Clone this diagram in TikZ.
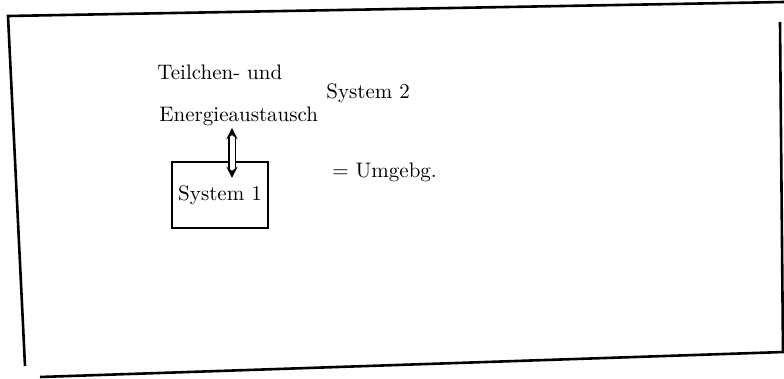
\documentclass[tikz,border=0pt]{standalone}
\usepackage{tikz}
\usetikzlibrary{arrows}
\newcommand{\wid}{784}
\newcommand{\hei}{379}
\newcommand{\txt}[1]{\fontsize{10.5}{12}\selectfont #1}
\begin{document}
\begin{tikzpicture}[
      x=0.5pt, y=-0.5pt, %one unit = one pixel of the sketch
      frame/.style={line width=1.3pt},
      box/.style={draw, line width=1.1pt, minimum width=48pt, minimum height=33pt, inner sep=0pt},
      word/.style={anchor=west, inner sep=1pt},
      exch/.style={line width=0.8pt, double, double distance=2.5pt, <->, >=stealth, shorten >=0pt, shorten <=2pt}
    ]
    \useasboundingbox (0,0) rectangle (\wid,\hei);
    % Draw the outer frame
    \draw [frame](25,366) -- (8,16) -- (784,2);
    \draw [frame](780,22) -- (783,352);
    \draw [frame](40,377) -- (784,352);
    % Name the exchange
    \node[word] (teil) at (155,72) {\txt{Teilchen- und}};
    \node[word] (energ) at (157,116) {\txt{Energieaustausch}};
    % Draw the system box
    \node[box] (sys1) at (220,195) {\txt{System 1}};
    \coordinate (inbox) at (232,182);
    % surroundings
    \node[word] (sys2) at (324,93) {\txt{System 2}};
    \node[word] (umg) at (330,172) {\txt{= Umgebg.}};
    % Draw the exchange arrow
    \draw [exch](inbox) -- (inbox |- energ.south);
    \end{tikzpicture}
\end{document}
